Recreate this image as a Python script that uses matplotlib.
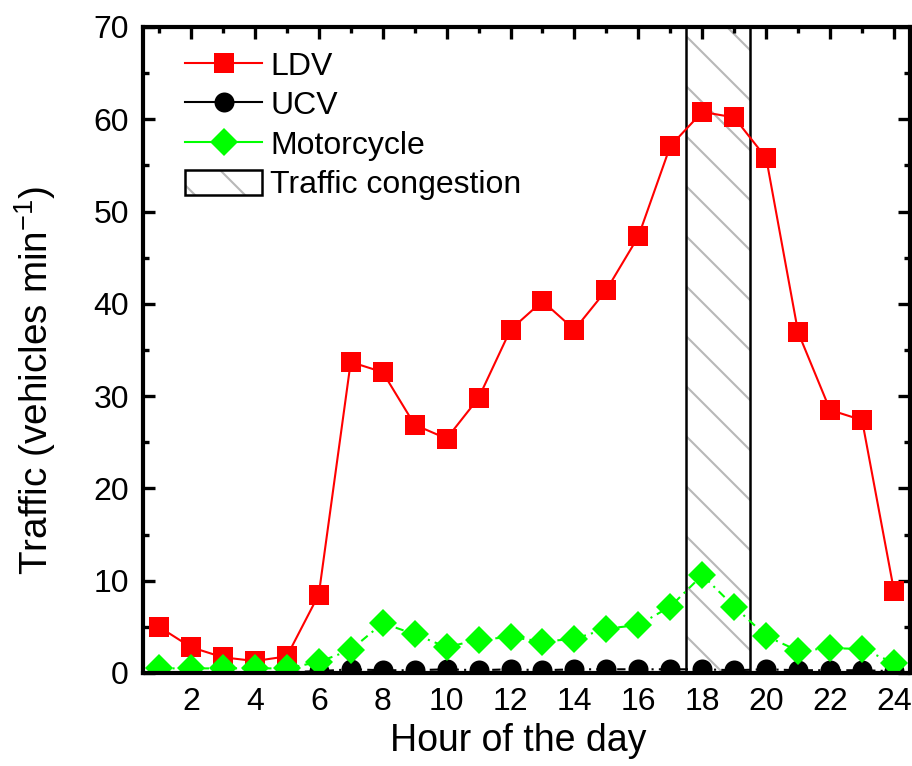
import matplotlib
matplotlib.use('Agg')
import matplotlib.pyplot as plt
from matplotlib.patches import Rectangle
from matplotlib.legend_handler import HandlerTuple
from matplotlib.ticker import MultipleLocator

plt.rcParams['font.family'] = ['Liberation Sans', 'DejaVu Sans']
plt.rcParams['mathtext.fontset'] = 'custom'
plt.rcParams['mathtext.rm'] = 'Liberation Sans'
plt.rcParams['mathtext.default'] = 'regular'
plt.rcParams['hatch.linewidth'] = 0.5

# data
hours = [1, 2, 3, 4, 5, 6, 7, 8, 9, 10, 11, 12,
         13, 14, 15, 16, 17, 18, 19, 20, 21, 22, 23, 24]
ldv = [5.0, 2.8, 1.7, 1.3, 1.8, 8.5, 33.7, 32.6, 26.9, 25.4, 29.8, 37.2,
       40.3, 37.2, 41.5, 47.3, 57.1, 60.8, 60.2, 55.8, 36.9, 28.5, 27.4, 8.9]
ucv = [0.1, 0.1, 0.1, 0.1, 0.1, 0.2, 0.4, 0.3, 0.3, 0.4, 0.3, 0.4,
       0.3, 0.4, 0.4, 0.4, 0.4, 0.4, 0.3, 0.4, 0.3, 0.3, 0.3, 0.2]
moto = [0.5, 0.5, 0.5, 0.5, 0.5, 1.2, 2.5, 5.4, 4.2, 2.8, 3.6, 3.9,
        3.4, 3.7, 4.8, 5.2, 7.2, 10.6, 7.2, 4.0, 2.4, 2.7, 2.6, 1.1]
congestion = (17.5, 19.5)

hatch_gray = '#b8b8b8'
dashdot = (0, (4, 2.5, 1, 2.5))

fig = plt.figure(figsize=(912 / 300, 766 / 300), dpi=300)
ax = fig.add_axes([143 / 912, 1 - 673 / 766, 767 / 912, 646 / 766])

ax.axvspan(congestion[0], congestion[1], facecolor='none', edgecolor=hatch_gray,
           hatch='\\\\', linewidth=0, zorder=1)
for xv in congestion:
    ax.axvline(xv, color='black', linewidth=0.6, zorder=1.5)

l1, = ax.plot(hours, ldv, color='red', linewidth=0.5, marker='s', markersize=4.6,
              markeredgewidth=0, zorder=3)
l2, = ax.plot(hours, ucv, color='black', linewidth=0.5, linestyle=dashdot, marker='o',
              markersize=4.8, markeredgewidth=0, zorder=3)
l3, = ax.plot(hours, moto, color='#00ff00', linewidth=0.5, linestyle=dashdot, marker='D',
              markersize=4.6, markeredgewidth=0, zorder=3)

# solid proxies for the legend
p1, = ax.plot([], [], color='red', linewidth=0.5, marker='s', markersize=4.6, markeredgewidth=0)
p2, = ax.plot([], [], color='black', linewidth=0.5, marker='o', markersize=4.8, markeredgewidth=0)
p3, = ax.plot([], [], color='#00ff00', linewidth=0.5, marker='D', markersize=4.6, markeredgewidth=0)
hatch_patch = Rectangle((0, 0), 1, 1, facecolor='none', edgecolor=hatch_gray, hatch='\\\\', linewidth=0)
box_patch = Rectangle((0, 0), 1, 1, facecolor='none', edgecolor='black', linewidth=0.6)

ax.legend([p1, p2, p3, (hatch_patch, box_patch)],
          ['LDV', 'UCV', 'Motorcycle', 'Traffic congestion'],
          handler_map={tuple: HandlerTuple(ndivide=1)},
          loc='upper left', bbox_to_anchor=(0.055, 0.963), borderaxespad=0, borderpad=0,
          frameon=False, fontsize=7.7, handlelength=2.4, handleheight=0.85,
          handletextpad=0.25, labelspacing=0.27)

ax.set_xlim(0.5, 24.5)
ax.set_ylim(0, 70)
ax.xaxis.set_major_locator(MultipleLocator(2))
ax.xaxis.set_minor_locator(MultipleLocator(1))
ax.yaxis.set_major_locator(MultipleLocator(10))
ax.yaxis.set_minor_locator(MultipleLocator(5))
ax.tick_params(which='both', direction='in', top=True, right=True, labelsize=7.7, pad=3.4)
ax.tick_params(which='major', length=2.9, width=0.8)
ax.tick_params(which='minor', length=1.5, width=0.8)
for s in ax.spines.values():
    s.set_linewidth(1.0)
    s.set_zorder(4)

ax.set_xlabel('Hour of the day', fontsize=9.0)
ax.set_ylabel('Traffic (vehicles min$^{-1}$)', fontsize=9.3)
ax.xaxis.set_label_coords(0.489, -0.0774)
ax.yaxis.set_label_coords(-0.111, 0.4536)

fig.savefig('out.png', dpi=300)
